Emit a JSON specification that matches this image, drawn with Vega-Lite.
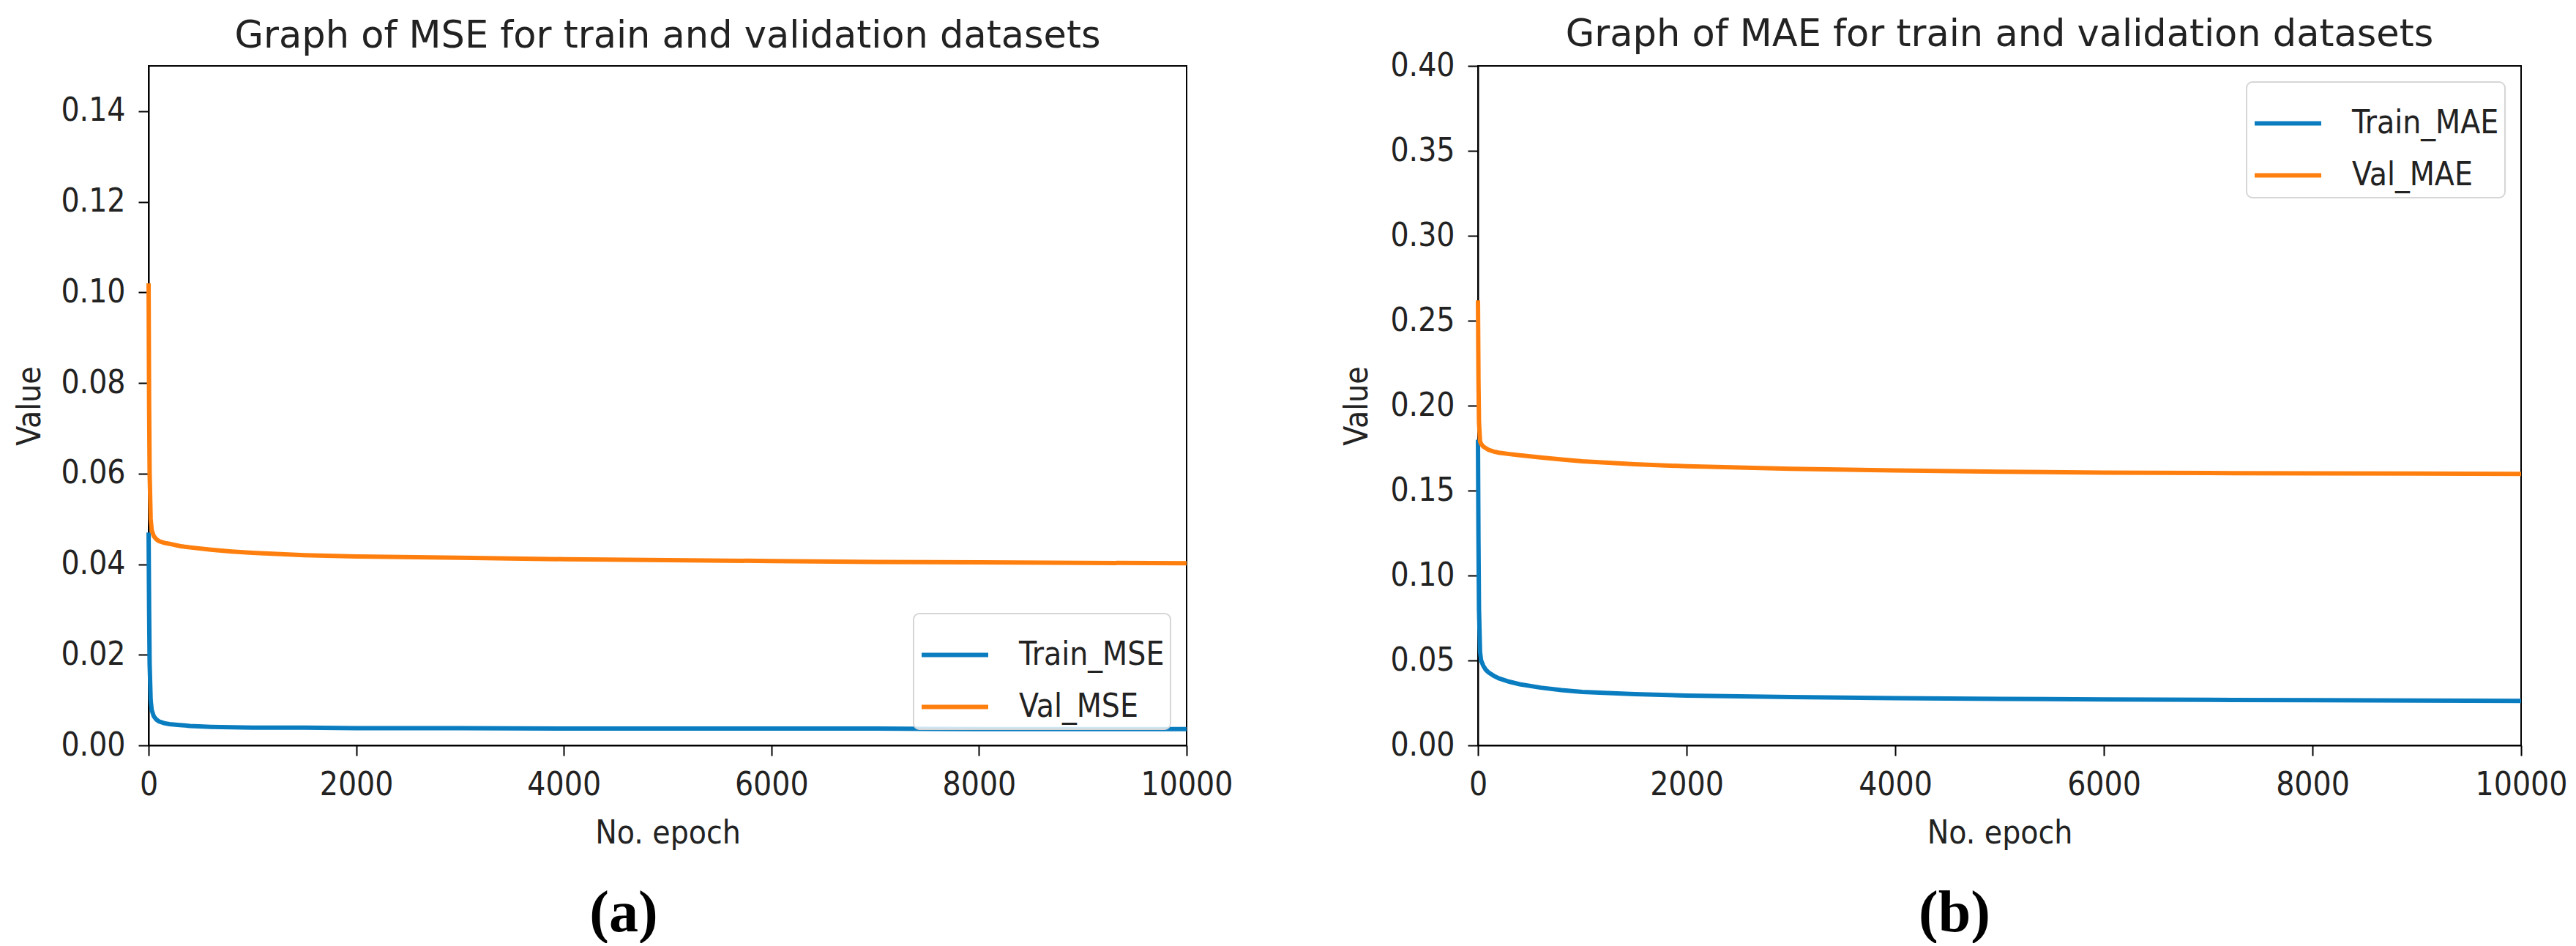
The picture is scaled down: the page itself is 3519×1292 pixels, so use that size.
{
  "$schema": "https://vega.github.io/schema/vega-lite/v6.json",
  "background": "white",
  "padding": {"left": 18, "top": 21, "right": 5, "bottom": 0},
  "datasets": {
    "mse": [
      {"series": "Train_MSE", "epoch": 0, "value": 0.047},
      {"series": "Train_MSE", "epoch": 5, "value": 0.030},
      {"series": "Train_MSE", "epoch": 10, "value": 0.018},
      {"series": "Train_MSE", "epoch": 20, "value": 0.010},
      {"series": "Train_MSE", "epoch": 30, "value": 0.0078},
      {"series": "Train_MSE", "epoch": 50, "value": 0.0064},
      {"series": "Train_MSE", "epoch": 75, "value": 0.0057},
      {"series": "Train_MSE", "epoch": 100, "value": 0.0053},
      {"series": "Train_MSE", "epoch": 150, "value": 0.0049},
      {"series": "Train_MSE", "epoch": 200, "value": 0.0047},
      {"series": "Train_MSE", "epoch": 300, "value": 0.0045},
      {"series": "Train_MSE", "epoch": 400, "value": 0.0043},
      {"series": "Train_MSE", "epoch": 600, "value": 0.0041},
      {"series": "Train_MSE", "epoch": 800, "value": 0.0040},
      {"series": "Train_MSE", "epoch": 1000, "value": 0.0039},
      {"series": "Train_MSE", "epoch": 1500, "value": 0.0039},
      {"series": "Train_MSE", "epoch": 2000, "value": 0.0038},
      {"series": "Train_MSE", "epoch": 3000, "value": 0.0038},
      {"series": "Train_MSE", "epoch": 4000, "value": 0.0037},
      {"series": "Train_MSE", "epoch": 5000, "value": 0.0037},
      {"series": "Train_MSE", "epoch": 6000, "value": 0.0037},
      {"series": "Train_MSE", "epoch": 7000, "value": 0.0037},
      {"series": "Train_MSE", "epoch": 8000, "value": 0.0036},
      {"series": "Train_MSE", "epoch": 9000, "value": 0.0036},
      {"series": "Train_MSE", "epoch": 10000, "value": 0.0036},
      {"series": "Val_MSE", "epoch": 0, "value": 0.102},
      {"series": "Val_MSE", "epoch": 5, "value": 0.075},
      {"series": "Val_MSE", "epoch": 10, "value": 0.060},
      {"series": "Val_MSE", "epoch": 20, "value": 0.050},
      {"series": "Val_MSE", "epoch": 30, "value": 0.0475},
      {"series": "Val_MSE", "epoch": 50, "value": 0.0462},
      {"series": "Val_MSE", "epoch": 75, "value": 0.0455},
      {"series": "Val_MSE", "epoch": 100, "value": 0.0451},
      {"series": "Val_MSE", "epoch": 150, "value": 0.0447},
      {"series": "Val_MSE", "epoch": 200, "value": 0.0445},
      {"series": "Val_MSE", "epoch": 300, "value": 0.0440},
      {"series": "Val_MSE", "epoch": 400, "value": 0.0437},
      {"series": "Val_MSE", "epoch": 600, "value": 0.0432},
      {"series": "Val_MSE", "epoch": 800, "value": 0.0428},
      {"series": "Val_MSE", "epoch": 1000, "value": 0.0425},
      {"series": "Val_MSE", "epoch": 1500, "value": 0.0420},
      {"series": "Val_MSE", "epoch": 2000, "value": 0.0417},
      {"series": "Val_MSE", "epoch": 3000, "value": 0.0414},
      {"series": "Val_MSE", "epoch": 4000, "value": 0.0411},
      {"series": "Val_MSE", "epoch": 5000, "value": 0.0409},
      {"series": "Val_MSE", "epoch": 6000, "value": 0.0407},
      {"series": "Val_MSE", "epoch": 7000, "value": 0.0405},
      {"series": "Val_MSE", "epoch": 8000, "value": 0.0404},
      {"series": "Val_MSE", "epoch": 9000, "value": 0.0403},
      {"series": "Val_MSE", "epoch": 10000, "value": 0.0402}
    ],
    "mae": [
      {"series": "Train_MAE", "epoch": 0, "value": 0.180},
      {"series": "Train_MAE", "epoch": 5, "value": 0.120},
      {"series": "Train_MAE", "epoch": 10, "value": 0.080},
      {"series": "Train_MAE", "epoch": 20, "value": 0.055},
      {"series": "Train_MAE", "epoch": 30, "value": 0.050},
      {"series": "Train_MAE", "epoch": 50, "value": 0.047},
      {"series": "Train_MAE", "epoch": 75, "value": 0.0445},
      {"series": "Train_MAE", "epoch": 100, "value": 0.043},
      {"series": "Train_MAE", "epoch": 150, "value": 0.041},
      {"series": "Train_MAE", "epoch": 200, "value": 0.0395},
      {"series": "Train_MAE", "epoch": 300, "value": 0.0375},
      {"series": "Train_MAE", "epoch": 400, "value": 0.036},
      {"series": "Train_MAE", "epoch": 600, "value": 0.034},
      {"series": "Train_MAE", "epoch": 800, "value": 0.0325},
      {"series": "Train_MAE", "epoch": 1000, "value": 0.0315},
      {"series": "Train_MAE", "epoch": 1500, "value": 0.0302},
      {"series": "Train_MAE", "epoch": 2000, "value": 0.0293},
      {"series": "Train_MAE", "epoch": 3000, "value": 0.0284},
      {"series": "Train_MAE", "epoch": 4000, "value": 0.0278},
      {"series": "Train_MAE", "epoch": 5000, "value": 0.0274},
      {"series": "Train_MAE", "epoch": 6000, "value": 0.0271},
      {"series": "Train_MAE", "epoch": 7000, "value": 0.0268},
      {"series": "Train_MAE", "epoch": 8000, "value": 0.0266},
      {"series": "Train_MAE", "epoch": 9000, "value": 0.0264},
      {"series": "Train_MAE", "epoch": 10000, "value": 0.0262},
      {"series": "Val_MAE", "epoch": 0, "value": 0.262},
      {"series": "Val_MAE", "epoch": 5, "value": 0.215},
      {"series": "Val_MAE", "epoch": 10, "value": 0.190},
      {"series": "Val_MAE", "epoch": 20, "value": 0.179},
      {"series": "Val_MAE", "epoch": 30, "value": 0.1775},
      {"series": "Val_MAE", "epoch": 50, "value": 0.176},
      {"series": "Val_MAE", "epoch": 75, "value": 0.175},
      {"series": "Val_MAE", "epoch": 100, "value": 0.174},
      {"series": "Val_MAE", "epoch": 150, "value": 0.173},
      {"series": "Val_MAE", "epoch": 200, "value": 0.1723},
      {"series": "Val_MAE", "epoch": 300, "value": 0.1715},
      {"series": "Val_MAE", "epoch": 400, "value": 0.1708},
      {"series": "Val_MAE", "epoch": 600, "value": 0.1695},
      {"series": "Val_MAE", "epoch": 800, "value": 0.1683},
      {"series": "Val_MAE", "epoch": 1000, "value": 0.1672},
      {"series": "Val_MAE", "epoch": 1500, "value": 0.1655},
      {"series": "Val_MAE", "epoch": 2000, "value": 0.1643},
      {"series": "Val_MAE", "epoch": 3000, "value": 0.1628},
      {"series": "Val_MAE", "epoch": 4000, "value": 0.1618},
      {"series": "Val_MAE", "epoch": 5000, "value": 0.1611},
      {"series": "Val_MAE", "epoch": 6000, "value": 0.1606},
      {"series": "Val_MAE", "epoch": 7000, "value": 0.1603},
      {"series": "Val_MAE", "epoch": 8000, "value": 0.1601},
      {"series": "Val_MAE", "epoch": 9000, "value": 0.1600},
      {"series": "Val_MAE", "epoch": 10000, "value": 0.1598}
    ]
  },
  "spacing": 146,
  "resolve": {"scale": {"color": "independent"}, "legend": {"color": "independent"}},
  "hconcat": [
    {
      "title": {"text": "(a)", "orient": "bottom", "anchor": "middle", "font": "Liberation Serif", "fontSize": 80, "fontWeight": "bold", "color": "black", "offset": 48},
      "resolve": {"scale": {"color": "independent"}, "legend": {"color": "independent"}},
      "vconcat": [
        {
          "title": {"text": "Graph of MSE for train and validation datasets", "font": "DejaVu Sans", "fontSize": 51, "fontWeight": "normal", "color": "#222222", "offset": 14},
          "width": 1418,
          "height": 928,
          "data": {"name": "mse"},
          "mark": {"type": "line", "strokeWidth": 6},
          "encoding": {
            "x": {"field": "epoch", "type": "quantitative", "scale": {"domain": [0, 10000], "nice": false}, "axis": {"values": [0, 2000, 4000, 6000, 8000, 10000], "format": "d", "title": "No. epoch", "labelFlush": false}},
            "y": {"field": "value", "type": "quantitative", "scale": {"domain": [0, 0.15], "nice": false}, "axis": {"values": [0, 0.02, 0.04, 0.06, 0.08, 0.1, 0.12, 0.14], "format": ".2f", "title": "Value", "titlePadding": 19}},
            "color": {"field": "series", "type": "nominal", "scale": {"domain": ["Train_MSE", "Val_MSE"], "range": ["#0a7dc0", "#ff7f0e"]}, "legend": {"orient": "bottom-right", "offset": 22, "title": null}}
          }
        }
      ]
    },
    {
      "title": {"text": "(b)", "orient": "bottom", "anchor": "middle", "font": "Liberation Serif", "fontSize": 80, "fontWeight": "bold", "color": "black", "offset": 48},
      "resolve": {"scale": {"color": "independent"}, "legend": {"color": "independent"}},
      "vconcat": [
        {
          "title": {"text": "Graph of MAE for train and validation datasets", "font": "DejaVu Sans", "fontSize": 51, "fontWeight": "normal", "color": "#222222", "offset": -6},
          "width": 1425,
          "height": 928,
          "data": {"name": "mae"},
          "mark": {"type": "line", "strokeWidth": 6},
          "encoding": {
            "x": {"field": "epoch", "type": "quantitative", "scale": {"domain": [0, 10000], "nice": false}, "axis": {"values": [0, 2000, 4000, 6000, 8000, 10000], "format": "d", "title": "No. epoch", "labelFlush": false}},
            "y": {"field": "value", "type": "quantitative", "scale": {"domain": [0, 0.4], "nice": false}, "axis": {"values": [0, 0.05, 0.1, 0.15, 0.2, 0.25, 0.3, 0.35, 0.4], "format": ".2f", "title": "Value"}},
            "color": {"field": "series", "type": "nominal", "scale": {"domain": ["Train_MAE", "Val_MAE"], "range": ["#0a7dc0", "#ff7f0e"]}, "legend": {"orient": "top-right", "offset": 22, "title": null}}
          }
        }
      ]
    }
  ],
  "config": {
    "font": "DejaVu Sans",
    "view": {"stroke": "black", "strokeWidth": 2},
    "axis": {
      "grid": false,
      "domainColor": "black",
      "domainWidth": 2,
      "tickColor": "black",
      "tickWidth": 2,
      "tickSize": 14,
      "labelFont": "DejaVu Sans Condensed, DejaVu Sans",
      "labelFontSize": 44,
      "labelColor": "#222222",
      "labelPadding": 18,
      "titleFont": "DejaVu Sans Condensed, DejaVu Sans",
      "titleFontSize": 44,
      "titleFontWeight": "normal",
      "titleColor": "#222222",
      "titlePadding": 22
    },
    "legend": {
      "labelFont": "DejaVu Sans Condensed, DejaVu Sans",
      "labelFontSize": 44,
      "labelColor": "#222222",
      "labelOffset": 39,
      "labelLimit": 0,
      "symbolType": "stroke",
      "symbolStrokeWidth": 6,
      "symbolSize": 8281,
      "rowPadding": -6,
      "padding": 8,
      "strokeColor": "#d6d6d6",
      "strokeWidth": 2,
      "cornerRadius": 8,
      "fillColor": "rgba(255,255,255,0.8)"
    }
  }
}
